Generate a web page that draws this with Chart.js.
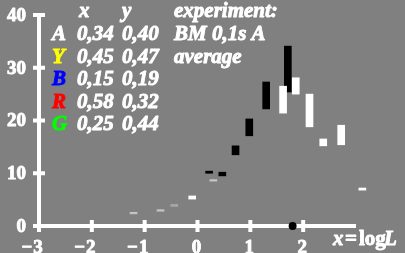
<!DOCTYPE html>
<html>
<head>
<meta charset="utf-8">
<script src="https://cdn.jsdelivr.net/npm/chart.js@4/dist/chart.umd.min.js"></script>
<style>
html,body{margin:0;padding:0;background:#808080;}
#c{display:block;}
</style>
</head>
<body>
<canvas id="c" width="405" height="253"></canvas>
<script>
// x = log L positions and floating ranges [low, high]
const blackX  = [0.22, 0.47, 0.72, 0.98, 1.30, 1.71];
const blackLo = [10.0, 9.5, 13.5, 17.1, 22.2, 25.4];
const blackHi = [10.4, 10.2, 15.2, 20.3, 27.3, 34.1];

const whiteX  = [-0.10, 1.62, 1.86, 2.12, 2.38, 2.72, 3.12];
const whiteLo = [5.1, 21.4, 25.0, 18.8, 15.2, 15.4, 6.8];
const whiteHi = [5.7, 26.5, 28.1, 25.0, 16.5, 19.1, 7.2];

const lightX  = [-1.21, -0.70, 0.30];
const lightLo = [2.3, 2.8, 8.5];
const lightHi = [2.6, 3.1, 8.8];

const greyX  = [-0.44];
const greyLo = [3.7];
const greyHi = [4.1];

const dotX = [1.80];
const dotY = [0];

const xTicks = [-3, -2, -1, 0, 1, 2];
const yTicks = [0, 10, 20, 30, 40];

const headerCols = ["x", "y", "experiment:"];
const rowLetters = ["A", "Y", "B", "R", "G"];
const rowColors  = ["#ffffff", "#ffff00", "#0000ff", "#ff0000", "#00ff00"];
const rowX = ["0,34", "0,45", "0,15", "0,58", "0,25"];
const rowY = ["0,40", "0,47", "0,19", "0,32", "0,44"];
const notes = ["BM 0,1s A", "average"];

function ranges(xs, lo, hi){ return xs.map((x,i)=>({x:x, y:[lo[i], hi[i]]})); }

function boldText(ctx, s, x, y){
  ctx.strokeStyle = ctx.fillStyle;
  ctx.lineWidth = 0.9;
  ctx.lineJoin = 'round';
  ctx.strokeText(s, x, y);
  ctx.fillText(s, x, y);
}

const axisPlugin = {
  id:'axesText',
  beforeDatasetsDraw(chart){
    const ctx = chart.ctx, xs = chart.scales.x, ys = chart.scales.y;
    const x0 = xs.getPixelForValue(-3), x3 = xs.getPixelForValue(3);
    const y0 = ys.getPixelForValue(0), y40 = ys.getPixelForValue(40);
    ctx.save();
    ctx.strokeStyle = '#ffffff';
    ctx.lineWidth = 4;
    ctx.beginPath();
    ctx.moveTo(x0, y0+2); ctx.lineTo(x0, y40-2);
    ctx.moveTo(x0-2, y0); ctx.lineTo(x3, y0);
    ctx.stroke();
    ctx.lineWidth = 4;
    ctx.beginPath();
    yTicks.forEach(v=>{ const p=ys.getPixelForValue(v); ctx.moveTo(x0-6,p); ctx.lineTo(x0+6,p); });
    xTicks.forEach(v=>{ const p=xs.getPixelForValue(v); ctx.moveTo(p,y0-6); ctx.lineTo(p,y0+6); });
    ctx.stroke();
    ctx.fillStyle = '#ffffff';
    ctx.font = 'bold 19px "Liberation Serif"';
    ctx.textAlign = 'right'; ctx.textBaseline = 'middle';
    yTicks.forEach(v=>{ boldText(ctx, String(v), 26, ys.getPixelForValue(v)+1); });
    ctx.textBaseline = 'alphabetic';
    xTicks.forEach(v=>{
      const p = xs.getPixelForValue(v);
      const d = String(Math.abs(v));
      const w = ctx.measureText(d).width;
      ctx.textAlign = 'left';
      boldText(ctx, d, p - w/2 - 1, 253);
      if (v < 0){ ctx.textAlign='right'; boldText(ctx, '\u2212', p - w/2 - 2, 253); }
    });
    // axis title x=logL
    ctx.textAlign = 'left';
    ctx.font = 'bold italic 21px "Liberation Serif"';
    boldText(ctx, 'x', 333, 245);
    ctx.font = 'bold 21px "Liberation Serif"';
    boldText(ctx, '=', 345, 245);
    boldText(ctx, 'log', 359, 245);
    ctx.font = 'bold italic 21px "Liberation Serif"';
    boldText(ctx, 'L', 384, 245);
    // legend table
    ctx.font = 'bold italic 21px "Liberation Serif"';
    boldText(ctx, headerCols[0], 79, 17);
    boldText(ctx, headerCols[1], 122, 17);
    boldText(ctx, headerCols[2], 174, 17);
    rowLetters.forEach((L,i)=>{
      const b = 40 + i*22.5;
      ctx.fillStyle = rowColors[i];
      boldText(ctx, L, 52, b);
      ctx.fillStyle = '#ffffff';
      boldText(ctx, rowX[i], 77, b);
      boldText(ctx, rowY[i], 122, b);
      if (notes[i]) boldText(ctx, notes[i], 174, b);
    });
    ctx.restore();
  }
};

const common = {grouped:false, barThickness:7, borderWidth:0, clip:false};

new Chart(document.getElementById('c'), {
  type:'bar',
  data:{
    datasets:[
      Object.assign({label:'light', data:ranges(lightX, lightLo, lightHi), backgroundColor:'#c4c4c4'}, common),
      Object.assign({label:'grey', data:ranges(greyX, greyLo, greyHi), backgroundColor:'#a6a6a6'}, common),
      Object.assign({label:'white', data:ranges(whiteX, whiteLo, whiteHi), backgroundColor:'#ffffff'}, common),
      Object.assign({label:'black', data:ranges(blackX, blackLo, blackHi), backgroundColor:'#000000'}, common),
      {type:'scatter', label:'dot', data:dotX.map((x,i)=>({x:x,y:dotY[i]})), backgroundColor:'#000000', borderWidth:0, pointRadius:4, clip:false}
    ]
  },
  options:{
    responsive:false,
    animation:false,
    layout:{padding:{left:39, right:49, top:15, bottom:27}},
    scales:{
      x:{type:'linear', min:-3, max:3, offset:false, display:false},
      y:{type:'linear', min:0, max:40, display:false}
    },
    plugins:{legend:{display:false}, tooltip:{enabled:false}}
  },
  plugins:[axisPlugin]
});
</script>
</body>
</html>
